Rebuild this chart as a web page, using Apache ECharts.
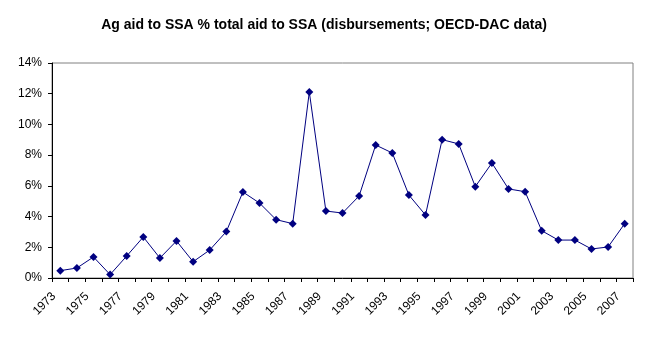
<!DOCTYPE html>
<html>
<head>
<meta charset="utf-8">
<script src="https://cdn.jsdelivr.net/npm/echarts@6/dist/echarts.min.js"></script>
<style>
html,body{margin:0;padding:0;background:#fff;}
#chart{width:648px;height:338px;}
</style>
</head>
<body>
<div id="chart"></div>
<script>
var years = ["1973","1974","1975","1976","1977","1978","1979","1980","1981","1982","1983","1984","1985","1986","1987","1988","1989","1990","1991","1992","1993","1994","1995","1996","1997","1998","1999","2000","2001","2002","2003","2004","2005","2006","2007"];
var agShare = [0.48,0.65,1.37,0.22,1.43,2.67,1.30,2.41,1.06,1.82,3.02,5.60,4.88,3.80,3.54,12.11,4.36,4.23,5.34,8.66,8.14,5.40,4.10,9.01,8.73,5.95,7.49,5.80,5.62,3.08,2.47,2.47,1.89,2.02,3.54];
var titleText = "Ag aid to SSA % total aid to SSA (disbursements; OECD-DAC data)";

var chart = echarts.init(document.getElementById('chart'), null, {renderer:'canvas'});
chart.setOption({
  animation:false,
  backgroundColor:'#ffffff',
  title:{
    text:titleText,
    left:'center',
    top:13,
    textStyle:{fontFamily:'Liberation Sans, Arial, sans-serif',fontSize:14,fontWeight:'bold',color:'#000'}
  },
  grid:{left:52,right:15,top:63,bottom:60,show:true,borderColor:'#808080',borderWidth:1,backgroundColor:'transparent'},
  xAxis:{
    type:'category',
    data:years,
    boundaryGap:true,
    axisLine:{lineStyle:{color:'#000',width:1}},
    axisTick:{show:true,length:4,alignWithLabel:false,interval:0,lineStyle:{color:'#000'}},
    axisLabel:{interval:1,rotate:45,fontFamily:'Liberation Sans, Arial, sans-serif',fontSize:12,color:'#000',margin:10,padding:[0,9,0,0]},
    splitLine:{show:false}
  },
  yAxis:{
    type:'value',
    min:0,max:14,interval:2,
    axisLine:{show:true,lineStyle:{color:'#000',width:1}},
    axisTick:{show:true,length:4,lineStyle:{color:'#000'}},
    axisLabel:{formatter:'{value}%',fontFamily:'Liberation Sans, Arial, sans-serif',fontSize:12,color:'#000',margin:10},
    splitLine:{show:false}
  },
  series:[{
    type:'line',
    data:agShare,
    symbol:'diamond',
    symbolSize:8,
    itemStyle:{color:'#000080'},
    lineStyle:{color:'#000080',width:1}
  }]
});
</script>
</body>
</html>
